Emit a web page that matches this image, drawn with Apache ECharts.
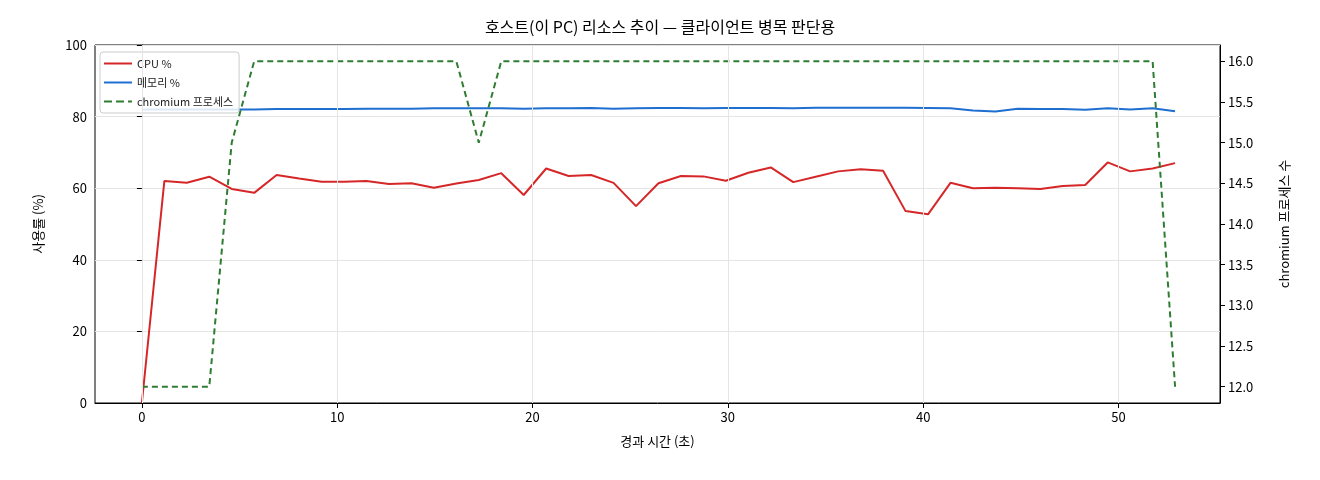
<!DOCTYPE html>
<html><head><meta charset="utf-8">
<script src="https://cdn.jsdelivr.net/npm/echarts@6/dist/echarts.min.js"></script>
<style>html,body{margin:0;padding:0;background:#fff}#c{width:1320px;height:480px}</style>
</head><body><div id="c"></div>
<script>
const times = [0,1.15,2.3,3.45,4.6,5.75,6.9,8.05,9.2,10.35,11.5,12.65,13.8,14.95,16.1,17.25,18.4,19.55,20.7,21.85,23.0,24.15,25.3,26.45,27.6,28.75,29.9,31.05,32.2,33.35,34.5,35.65,36.8,37.95,39.1,40.25,41.4,42.55,43.7,44.85,46.0,47.15,48.3,49.45,50.6,51.75,52.9];
const cpu = [0,62,61.5,63.2,59.8,58.7,63.7,62.7,61.8,61.8,62,61.2,61.4,60.1,61.3,62.3,64.2,58.1,65.5,63.4,63.7,61.5,55,61.4,63.4,63.3,62.1,64.3,65.8,61.7,63.2,64.7,65.3,64.9,53.6,52.7,61.5,60,60.1,60,59.8,60.6,60.9,67.2,64.7,65.5,65.5,67];
const mem = [82.0,82.0,82.0,82.0,82.0,82.0,82.1,82.1,82.1,82.1,82.2,82.2,82.2,82.3,82.3,82.3,82.3,82.2,82.3,82.3,82.4,82.2,82.3,82.4,82.4,82.3,82.4,82.4,82.4,82.3,82.5,82.5,82.5,82.5,82.5,82.4,82.3,81.7,81.4,82.2,82.1,82.1,81.9,82.3,82.0,82.3,81.5];
const procs = [12,12,12,12,15,16,16,16,16,16,16,16,16,16,16,15,16,16,16,16,16,16,16,16,16,16,16,16,16,16,16,16,16,16,16,16,16,16,16,16,16,16,16,16,16,16,12];
const xTicks = [0,10,20,30,40,50];
const rightTicks = [12,12.5,13,13.5,14,14.5,15,15.5,16];
cpu.splice(46,1);
const pair = a => times.map((t,i)=>[t,a[i]]);
const font = "'Noto Sans CJK KR', 'DejaVu Sans', sans-serif";
const chart = echarts.init(document.getElementById('c'));
chart.setOption({
  animation:false,
  textStyle:{fontFamily:font},
  title:{text:'호스트(이 PC) 리소스 추이 — 클라이언트 병목 판단용',left:'center',top:14,textStyle:{fontSize:16,fontWeight:'normal',color:'#000',fontFamily:font}},
  grid:{left:95,right:100,top:45,bottom:77,show:true,borderColor:'#000',borderWidth:1},
  legend:{left:100,top:52,orient:'vertical',itemGap:8,itemWidth:28,itemHeight:10,borderColor:'#ccc',borderWidth:1,borderRadius:3,padding:[6,6,6,4],backgroundColor:'rgba(255,255,255,0.85)',textStyle:{fontSize:11,color:'#222'},
    data:[{name:'CPU %',icon:'path://M0,4h28v2h-28z'},{name:'메모리 %',icon:'path://M0,4h28v2h-28z'},{name:'chromium 프로세스',icon:'path://M0,4h8v2h-8zM12,4h8v2h-8zM24,4h4v2h-4z'}]},
  xAxis:{type:'value',min:-2.4,max:55.2,name:'경과 시간 (초)',nameLocation:'middle',nameGap:32,nameTextStyle:{fontSize:13,color:'#000'},
    axisLine:{onZero:false,lineStyle:{color:'#000'}},axisTick:{customValues:xTicks,lineStyle:{color:'#000'}},
    axisLabel:{customValues:xTicks,fontSize:13,color:'#000'},splitLine:{show:false}},
  yAxis:[
    {type:'value',min:0,max:100,interval:20,name:'사용률 (%)',nameLocation:'middle',nameGap:50,nameTextStyle:{fontSize:13,color:'#000'},
     axisLine:{show:true,lineStyle:{color:'#000'}},axisTick:{show:true},axisLabel:{fontSize:13,color:'#000'},splitLine:{lineStyle:{color:'#e5e5e5'}}},
    {type:'value',min:11.8,max:16.2,position:'right',name:'chromium 프로세스 수',nameLocation:'middle',nameGap:58,nameRotate:90,nameTextStyle:{fontSize:13,color:'#000'},
     axisLine:{show:true,lineStyle:{color:'#000'}},axisTick:{show:true,customValues:rightTicks},
     axisLabel:{customValues:rightTicks,fontSize:13,color:'#000',formatter:v=>v.toFixed(1)},splitLine:{show:false}}
  ],
  series:[
    {name:'CPU %',type:'line',data:pair(cpu),showSymbol:false,lineStyle:{color:'#d62728',width:2},itemStyle:{color:'#d62728'},z:3,
     markLine:{silent:true,symbol:'none',label:{show:false},lineStyle:{color:'#e5e5e5',type:'solid',width:1},data:xTicks.map(v=>({xAxis:v}))}},
    {name:'메모리 %',type:'line',data:pair(mem),showSymbol:false,lineStyle:{color:'#1f6fd0',width:2},itemStyle:{color:'#1f6fd0'},z:3},
    {name:'chromium 프로세스',type:'line',yAxisIndex:1,data:pair(procs),showSymbol:false,lineStyle:{color:'#2e7d32',width:2,type:[6,4]},itemStyle:{color:'#2e7d32'},z:3}
  ]
});
</script></body></html>
